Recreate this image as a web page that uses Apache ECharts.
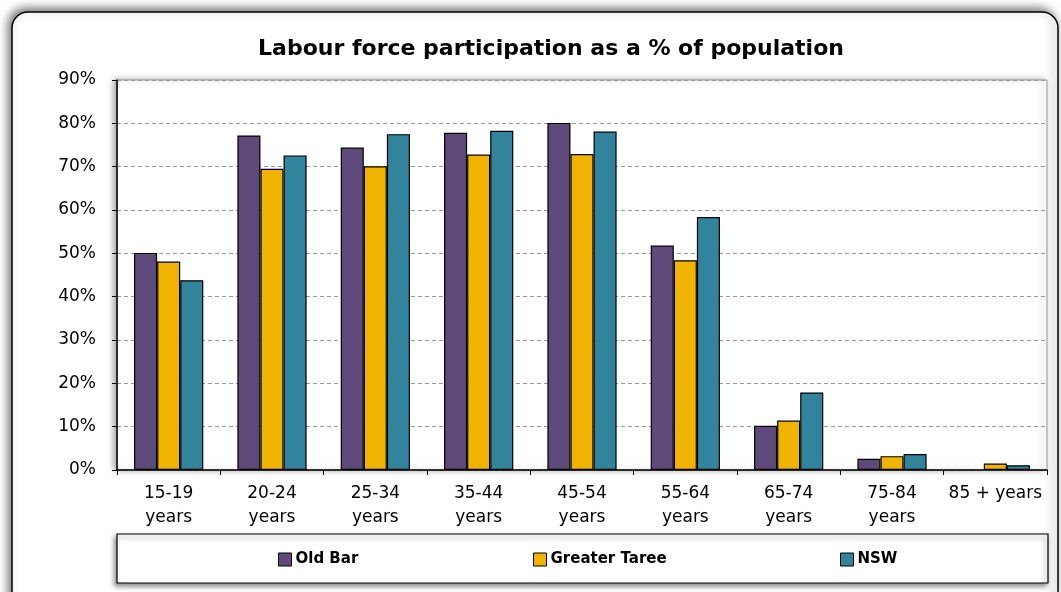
<!DOCTYPE html>
<html>
<head>
<meta charset="utf-8">
<script src="https://cdn.jsdelivr.net/npm/echarts@6/dist/echarts.min.js"></script>
<style>
html,body{margin:0;padding:0;background:#fff;}
#c{width:1061px;height:592px;}
</style>
</head>
<body>
<div id="c"></div>
<script>
const categories = ['15-19\nyears','20-24\nyears','25-34\nyears','35-44\nyears','45-54\nyears','55-64\nyears','65-74\nyears','75-84\nyears','85 + years'];
const oldBar = [50.1, 77.2, 74.4, 77.8, 80.1, 51.8, 10.2, 2.6, null];
const greaterTaree = [48.1, 69.5, 70.1, 72.8, 72.9, 48.4, 11.4, 3.2, 1.5];
const nsw = [43.8, 72.6, 77.5, 78.3, 78.1, 58.4, 17.9, 3.7, 1.1];
const seriesNames = ['Old Bar','Greater Taree','NSW'];
const colors = ['#5E4A7A','#F0B400','#31849B'];
const titleText = 'Labour force participation as a % of population';

const chart = echarts.init(document.getElementById('c'), null, {renderer:'canvas'});
const fam = '"DejaVu Sans", Verdana, sans-serif';
function mk(name, data, i){
  return {
    name: name, type:'bar', data: data,
    barGap: '0%', barCategoryGap: '33%',
    itemStyle: {color: colors[i], borderColor:'#000', borderWidth:1.2},
    emphasis:{disabled:true}
  };
}
const legendLefts = [278, 533, 840];
chart.setOption({
  animation:false,
  graphic:[
    {type:'rect', z:-10, shape:{x:12,y:12,width:1046,height:600,r:16},
     style:{fill:'#fff', stroke:'#000', lineWidth:1.5, shadowBlur:10, shadowColor:'rgba(0,0,0,0.55)', shadowOffsetX:-3, shadowOffsetY:-3}},
    {type:'rect', z:-5, shape:{x:117,y:534,width:931,height:49},
     style:{fill:'#fff', stroke:'#000', lineWidth:1.2, shadowBlur:5, shadowColor:'rgba(0,0,0,0.45)', shadowOffsetX:-2, shadowOffsetY:3}},
    {type:'rect', z:-4, shape:{x:117,y:80,width:930,height:390},
     style:{fill:'#fff', stroke:'#999', lineWidth:1, shadowBlur:6, shadowColor:'rgba(0,0,0,0.35)', shadowOffsetX:-3, shadowOffsetY:0}}
  ],
  title:{text:titleText, left:546, top:33, textAlign:'center',
    textStyle:{fontFamily:fam, fontWeight:'bold', fontSize:22, color:'#000'}},
  legend: seriesNames.map((n,i)=>({data:[n], left:legendLefts[i], top:552, padding:0, itemWidth:13, itemHeight:13,
    icon:'rect', itemGap:6,
    textStyle:{fontFamily:fam, fontWeight:'bold', fontSize:15, color:'#000', padding:[0,0,0,-1]},
    itemStyle:{borderColor:'#000', borderWidth:1}})),
  grid:{left:117, right:14, top:80, bottom:122, containLabel:false},
  xAxis:{type:'category', data:categories,
    axisLine:{lineStyle:{color:'#000', width:1.5}},
    axisTick:{show:true, alignWithLabel:false, length:5, lineStyle:{color:'#000'}},
    axisLabel:{color:'#000', fontFamily:fam, fontSize:17, lineHeight:24, margin:12, interval:0}},
  yAxis:{type:'value', min:0, max:90, interval:10,
    axisLine:{show:true, lineStyle:{color:'#000', width:1.5}},
    axisTick:{show:true, length:5, lineStyle:{color:'#000'}},
    axisLabel:{color:'#000', fontFamily:fam, fontSize:17, margin:21, formatter:'{value}%'},
    splitLine:{show:true, lineStyle:{color:'#999', type:[4,3], width:1}}},
  series:[mk(seriesNames[0], oldBar, 0), mk(seriesNames[1], greaterTaree, 1), mk(seriesNames[2], nsw, 2)]
});
</script>
</body>
</html>
